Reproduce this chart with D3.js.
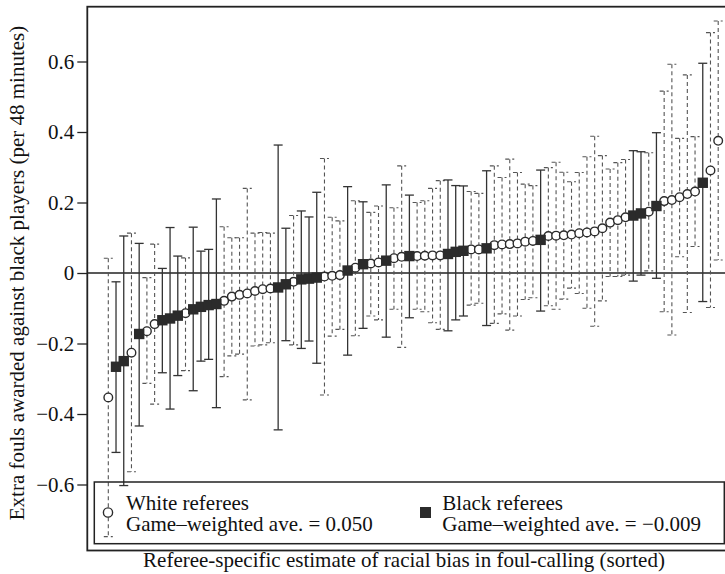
<!DOCTYPE html>
<html>
<head>
<meta charset="utf-8">
<script src="https://cdn.jsdelivr.net/npm/d3@7/dist/d3.min.js"></script>
<style>
body { margin: 0; background: #fff; }
svg { display: block; }
</style>
</head>
<body>
<div id="chart"></div>
<script>
"use strict"

//
// Data, one entry per referee, sorted by estimated bias
//
var refRace = [
	"W","B","B","W","B","W","W","B","B","B",
	"W","B","B","B","B","W","W","W","W","W",
	"W","W","B","B","W","B","B","B","W","W",
	"W","B","W","B","W","W","B","W","W","B",
	"W","W","W","W","B","B","B","W","W","B",
	"W","W","W","W","W","W","B","W","W","W",
	"W","W","W","W","W","W","W","W","B","B",
	"W","B","W","W","W","W","W","B","W","W"
];
var biasEst = [
	-0.353,-0.266,-0.250,-0.226,-0.173,-0.165,-0.145,-0.134,-0.129,-0.121,
	-0.114,-0.103,-0.096,-0.091,-0.088,-0.079,-0.067,-0.062,-0.058,-0.051,
	-0.046,-0.044,-0.041,-0.032,-0.025,-0.018,-0.016,-0.013,-0.010,-0.008,
	-0.006, 0.007, 0.015, 0.025, 0.027, 0.030, 0.035, 0.042, 0.046, 0.048,
	 0.048, 0.049, 0.050, 0.050, 0.054, 0.060, 0.063, 0.067, 0.067, 0.070,
	 0.079, 0.081, 0.082, 0.084, 0.089, 0.091, 0.094, 0.105, 0.106, 0.107,
	 0.109, 0.113, 0.115, 0.118, 0.127, 0.143, 0.150, 0.158, 0.163, 0.169,
	 0.174, 0.190, 0.204, 0.207, 0.215, 0.224, 0.231, 0.256, 0.291, 0.375
];
var ciLow = [
	-0.748,-0.509,-0.603,-0.564,-0.434,-0.313,-0.372,-0.283,-0.386,-0.291,
	-0.277,-0.334,-0.250,-0.245,-0.382,-0.294,-0.235,-0.230,-0.360,-0.207,
	-0.204,-0.198,-0.445,-0.192,-0.204,-0.214,-0.193,-0.256,-0.346,-0.179,
	-0.160,-0.233,-0.178,-0.157,-0.122,-0.133,-0.182,-0.103,-0.211,-0.127,
	-0.103,-0.110,-0.141,-0.160,-0.164,-0.133,-0.122,-0.091,-0.086,-0.149,
	-0.143,-0.116,-0.162,-0.122,-0.075,-0.070,-0.108,-0.093,-0.103,-0.074,
	-0.043,-0.058,-0.100,-0.151,-0.079,-0.010,-0.010,-0.006,-0.023,-0.006,
	 0.006,-0.015,-0.110,-0.176, 0.046,-0.112, 0.075,-0.081,-0.098, 0.037
];
var ciHigh = [
	 0.042,-0.025, 0.105, 0.113, 0.084,-0.013, 0.082, 0.013, 0.129, 0.048,
	 0.043, 0.130, 0.062, 0.067, 0.210, 0.131, 0.100, 0.100, 0.240, 0.113,
	 0.115, 0.113, 0.363, 0.127, 0.163, 0.176, 0.159, 0.229, 0.325, 0.158,
	 0.148, 0.245, 0.205, 0.202, 0.172, 0.190, 0.250, 0.185, 0.304, 0.221,
	 0.200, 0.205, 0.240, 0.262, 0.264, 0.248, 0.247, 0.231, 0.226, 0.290,
	 0.304, 0.271, 0.323, 0.285, 0.252, 0.248, 0.292, 0.299, 0.314, 0.286,
	 0.259, 0.285, 0.330, 0.388, 0.333, 0.295, 0.313, 0.322, 0.347, 0.344,
	 0.341, 0.398, 0.516, 0.592, 0.382, 0.562, 0.387, 0.595, 0.682, 0.715
];
var yTickValues = [-0.6, -0.4, -0.2, 0, 0.2, 0.4, 0.6];
var legendTitles = ["White referees", "Black referees"];
var legendAverages = ["Game\u2013weighted ave. = 0.050", "Game\u2013weighted ave. = \u22120.009"];
var xTitle = "Referee-specific estimate of racial bias in foul-calling (sorted)";
var yTitle = "Extra fouls awarded against black players (per 48 minutes)";

var FONT = "'Liberation Serif', 'Times New Roman', serif";
var INK = "#2b2b2b";

//
// Chart
//
function BiasChart(parentId) {
	this.parentId = parentId;
	this.width = 725;
	this.height = 574;
	this.frameLeft = 87.3;
	this.frameTop = 6.7;
	this.frameBottom = 550.5;
	this.create();
	this.draw();
}

BiasChart.prototype.create = function() {
	this.svg = d3.select("#" + this.parentId).append("svg")
		.attr("width", this.width)
		.attr("height", this.height)
		;
	this.x = d3.scaleLinear().domain([1, refRace.length]).range([108.3, 718.2]);
	this.y = d3.scaleLinear().domain([-0.6, 0.6]).range([484.5, 61.5]);
	this.rows = refRace.map(function(r, i) {
		return {rank: i + 1, race: r, est: biasEst[i], lo: ciLow[i], hi: ciHigh[i]};
	});
}

BiasChart.prototype.draw = function() {
	var m_this = this;
	var x = this.x, y = this.y;
	var svg = this.svg;
	//
	// frame
	svg.append("rect")
		.attr("x", this.frameLeft)
		.attr("y", this.frameTop)
		.attr("width", 760 - this.frameLeft)
		.attr("height", this.frameBottom - this.frameTop)
		.attr("fill", "none")
		.attr("stroke", "#222")
		.attr("stroke-width", 1.8)
		;
	// zero line
	svg.append("line")
		.attr("x1", this.frameLeft).attr("x2", 760)
		.attr("y1", y(0)).attr("y2", y(0))
		.attr("stroke", "#222").attr("stroke-width", 1.3)
		;
	//
	// y axis
	var axis = d3.axisLeft(y)
		.tickValues(yTickValues)
		.tickSize(10)
		.tickPadding(3)
		.tickFormat(function(d) { return d === 0 ? "0" : d3.format(".1f")(d).replace("-", "\u2212"); })
		;
	var gAxis = svg.append("g")
		.attr("transform", "translate(" + this.frameLeft + ",0)")
		.call(axis)
		;
	gAxis.select(".domain").remove();
	gAxis.selectAll(".tick line").attr("stroke", "#222").attr("stroke-width", 1.3);
	gAxis.selectAll(".tick text")
		.attr("fill", "#111")
		.style("font-family", FONT)
		.style("font-size", "21px")
		;
	//
	// error bars
	var white = this.rows.filter(function(d) { return d.race == "W"; });
	var black = this.rows.filter(function(d) { return d.race == "B"; });
	var gw = svg.append("g")
		.attr("stroke", "#555")
		.attr("stroke-width", 1.1)
		.attr("stroke-dasharray", "4,3")
		;
	this.drawBars(gw, white, 4.5);
	var gb = svg.append("g")
		.attr("stroke", "#333")
		.attr("stroke-width", 1.3)
		;
	this.drawBars(gb, black, 4.5);
	//
	// markers
	svg.append("g").selectAll("circle")
		.data(white).enter().append("circle")
		.attr("cx", function(d) { return x(d.rank); })
		.attr("cy", function(d) { return y(d.est); })
		.attr("r", 4.3)
		.attr("fill", "#fff")
		.attr("stroke", INK)
		.attr("stroke-width", 1.4)
		;
	svg.append("g").selectAll("rect")
		.data(black).enter().append("rect")
		.attr("x", function(d) { return x(d.rank) - 5.2; })
		.attr("y", function(d) { return y(d.est) - 5.2; })
		.attr("width", 10.4)
		.attr("height", 10.4)
		.attr("fill", INK)
		;
	//
	// legend
	svg.append("rect")
		.attr("x", 94.3).attr("y", 482)
		.attr("width", 630).attr("height", 61.7)
		.attr("fill", "none")
		.attr("stroke", "#222")
		.attr("stroke-width", 1.5)
		;
	svg.append("circle")
		.attr("cx", 108).attr("cy", 512.5).attr("r", 4.6)
		.attr("fill", "#fff").attr("stroke", INK).attr("stroke-width", 1.4)
		;
	svg.append("rect")
		.attr("x", 420).attr("y", 507).attr("width", 11).attr("height", 11)
		.attr("fill", INK)
		;
	var legX = [126, 442.3];
	legX.forEach(function(lx, i) {
		var t = svg.append("text")
			.attr("x", lx)
			.attr("y", 509.5)
			.attr("fill", "#111")
			.style("font-family", FONT)
			.style("font-size", "21px")
			;
		t.append("tspan").attr("x", lx).attr("y", 509.5).text(legendTitles[i]);
		t.append("tspan").attr("x", lx).attr("y", 531).text(legendAverages[i]);
	});
	//
	// titles
	svg.append("text")
		.attr("x", 404)
		.attr("y", 566.5)
		.attr("text-anchor", "middle")
		.attr("fill", "#111")
		.style("font-family", FONT)
		.style("font-size", "21px")
		.text(xTitle)
		;
	svg.append("text")
		.attr("transform", "translate(23.5,273) rotate(-90)")
		.attr("text-anchor", "middle")
		.attr("fill", "#111")
		.style("font-family", FONT)
		.style("font-size", "21px")
		.text(yTitle)
		;
}

BiasChart.prototype.drawBars = function(g, data, cap) {
	var x = this.x, y = this.y;
	var sel = g.selectAll("g.bar").data(data).enter().append("g").attr("class", "bar");
	sel.append("line")
		.attr("x1", function(d) { return x(d.rank); })
		.attr("x2", function(d) { return x(d.rank); })
		.attr("y1", function(d) { return y(d.hi); })
		.attr("y2", function(d) { return y(d.lo); })
		;
	sel.append("line")
		.attr("x1", function(d) { return x(d.rank) - cap; })
		.attr("x2", function(d) { return x(d.rank) + cap; })
		.attr("y1", function(d) { return y(d.hi); })
		.attr("y2", function(d) { return y(d.hi); })
		;
	sel.append("line")
		.attr("x1", function(d) { return x(d.rank) - cap; })
		.attr("x2", function(d) { return x(d.rank) + cap; })
		.attr("y1", function(d) { return y(d.lo); })
		.attr("y2", function(d) { return y(d.lo); })
		;
}

var m_chart = new BiasChart("chart");
</script>
</body>
</html>
